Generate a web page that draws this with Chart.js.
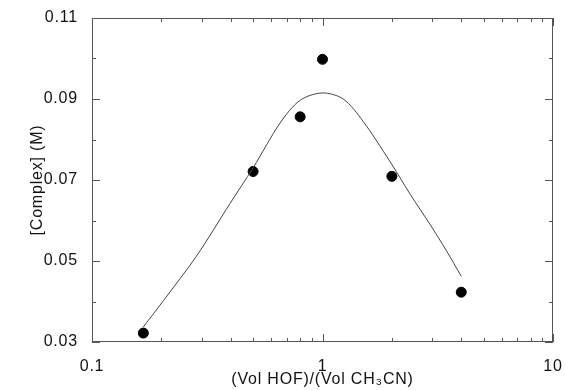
<!DOCTYPE html>
<html>
<head>
<meta charset="utf-8">
<script src="https://cdn.jsdelivr.net/npm/chart.js@4"></script>
<style>
  html, body { margin: 0; padding: 0; background: #fff; }
  #wrap { width: 565px; height: 390px; }
</style>
</head>
<body>
<div id="wrap"><canvas id="myChart" width="565" height="390"></canvas></div>
<script>
// measured points
var ratioX = [0.167, 0.5, 0.8, 1.0, 2.0, 4.0];
var complexY = [0.0322, 0.0721, 0.0856, 0.0998, 0.0709, 0.0423];

// fitted curve
var curveX = [0.167, 0.204, 0.284, 0.397, 0.5, 0.655, 0.8, 1.0, 1.23, 1.5, 1.96, 2.4, 2.93, 3.46, 4.0];
var curveY = [0.0337, 0.0402, 0.0512, 0.0642, 0.0730, 0.0841, 0.0897, 0.0915, 0.0900, 0.0845, 0.0746, 0.0665, 0.0590, 0.0524, 0.0462];

// axis ticks
var xMajor = [0.1, 1, 10];
var xMinor = [0.2, 0.3, 0.4, 0.5, 0.6, 0.7, 0.8, 0.9, 2, 3, 4, 5, 6, 7, 8, 9];
var yMajor = [0.03, 0.05, 0.07, 0.09, 0.11];
var yMinor = [0.04, 0.06, 0.08, 0.10];

var fontFam = '"Liberation Sans", Arial, sans-serif';
var axisColor = '#555';

var pts = [];
for (var i = 0; i < ratioX.length; i++) pts.push({x: ratioX[i], y: complexY[i]});
var fit = [];
for (var j = 0; j < curveX.length; j++) fit.push({x: curveX[j], y: curveY[j]});

function noPad(scale) {
  scale.paddingTop = 0; scale.paddingBottom = 0;
  scale.paddingLeft = 0; scale.paddingRight = 0;
}

// frame + inward ticks on all four sides
var frameTicks = {
  id: 'frameTicks',
  beforeDraw: function(chart) {
    chart.ctx.letterSpacing = '0.8px';
  },
  afterDatasetsDraw: function(chart) {
    var ctx = chart.ctx, a = chart.chartArea;
    var xs = chart.scales.x, ys = chart.scales.y;
    ctx.save();
    ctx.strokeStyle = axisColor;
    ctx.lineWidth = 1;
    ctx.strokeRect(a.left + 0.5, a.top + 0.5, a.right - a.left - 1, a.bottom - a.top - 1);
    ctx.beginPath();
    function xt(v, len) {
      var p = Math.round(xs.getPixelForValue(v)) + 0.5;
      ctx.moveTo(p, a.bottom); ctx.lineTo(p, a.bottom - len);
      ctx.moveTo(p, a.top); ctx.lineTo(p, a.top + len);
    }
    function yt(v, len) {
      var p = Math.round(ys.getPixelForValue(v)) + 0.5;
      ctx.moveTo(a.left, p); ctx.lineTo(a.left + len, p);
      ctx.moveTo(a.right, p); ctx.lineTo(a.right - len, p);
    }
    xMajor.forEach(function(v) { xt(v, 8); });
    xMinor.forEach(function(v) { xt(v, 4); });
    yMajor.forEach(function(v) { yt(v, 8); });
    yMinor.forEach(function(v) { yt(v, 4); });
    ctx.stroke();
    ctx.restore();
  }
};

var ctx = document.getElementById('myChart').getContext('2d');
var chart = new Chart(ctx, {
  type: 'scatter',
  data: {
    datasets: [{
      label: 'fit',
      data: fit,
      showLine: true,
      borderColor: '#444',
      borderWidth: 1,
      pointRadius: 0,
      tension: 0.3,
      fill: false
    }, {
      label: 'Complex',
      data: pts,
      backgroundColor: '#000',
      borderColor: '#000',
      pointRadius: 5,
      pointHoverRadius: 5
    }]
  },
  options: {
    responsive: false,
    animation: false,
    events: [],
    layout: { padding: { left: 18, top: 18, right: 12, bottom: 0 } },
    plugins: { legend: { display: false }, tooltip: { enabled: false } },
    scales: {
      x: {
        type: 'logarithmic',
        min: 0.1,
        max: 10,
        grid: { display: false, drawTicks: false },
        border: { display: false },
        afterBuildTicks: function(scale) {
          scale.ticks = xMajor.map(function(v) { return {value: v}; });
        },
        afterFit: function(scale) { scale.height = 48; noPad(scale); },
        ticks: {
          autoSkip: false,
          maxRotation: 0,
          padding: 15,
          color: '#111',
          font: { family: fontFam, size: 16 },
          callback: function(v) { return String(v); }
        },
        title: {
          display: true,
          text: '(Vol HOF)/(Vol CH₃CN)',
          color: '#111',
          font: { family: fontFam, size: 16 },
          padding: { top: 0, bottom: 1 }
        }
      },
      y: {
        type: 'linear',
        min: 0.03,
        max: 0.11,
        grid: { display: false, drawTicks: false },
        border: { display: false },
        afterBuildTicks: function(scale) {
          scale.ticks = yMajor.map(function(v) { return {value: v}; });
        },
        afterFit: function(scale) { scale.width = 74; noPad(scale); },
        ticks: {
          autoSkip: false,
          padding: 14,
          color: '#111',
          font: { family: fontFam, size: 16 },
          callback: function(v) { return v.toFixed(2); }
        },
        title: {
          display: true,
          text: '[Complex] (M)',
          color: '#111',
          font: { family: fontFam, size: 16 },
          padding: { top: 10, bottom: 0 }
        }
      }
    }
  },
  plugins: [frameTicks]
});
</script>
</body>
</html>
